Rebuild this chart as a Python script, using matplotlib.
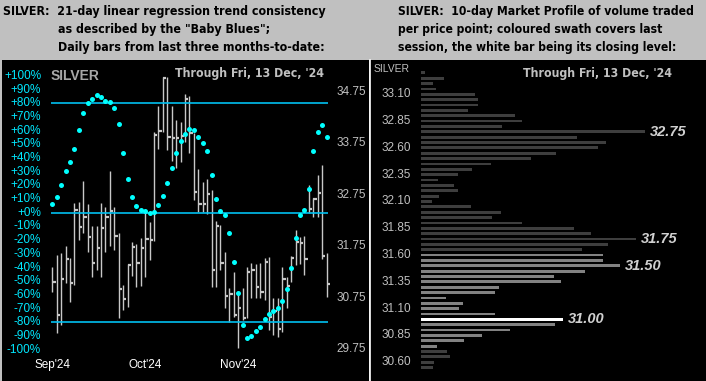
import numpy as np
import matplotlib.pyplot as plt
from matplotlib.lines import Line2D
from matplotlib import font_manager as fm
import matplotlib.transforms as mtransforms

# ---- left panel: daily bars + 21-day trend consistency ("Baby Blues") ----
high = [31.35, 31.58, 31.62, 31.75, 31.53, 32.60, 32.61, 33.02, 32.58, 32.14,
        32.14, 32.60, 32.52, 33.21, 32.51, 32.00, 31.00, 31.40, 31.84, 31.79,
        31.91, 32.40, 32.23, 33.98, 34.48, 35.05, 35.05, 34.48, 34.21, 34.17,
        34.71, 34.67, 33.95, 33.25, 33.00, 33.05, 32.84, 32.24, 32.16, 31.64,
        30.93, 31.25, 30.83, 30.93, 31.35, 31.43, 31.40, 31.42, 31.53, 31.54,
        30.74, 30.74, 31.35, 31.16, 31.55, 32.07, 31.92, 31.94, 32.94, 32.68,
        33.14, 33.33, 31.62]
low = [30.86, 30.06, 30.22, 31.03, 30.67, 31.00, 31.87, 32.00, 31.64, 31.16,
       31.29, 31.16, 31.64, 31.75, 31.68, 30.36, 30.51, 30.57, 31.17, 30.95,
       30.98, 31.15, 31.48, 31.86, 33.65, 33.98, 33.62, 33.41, 33.27, 33.39,
       33.78, 33.57, 32.64, 32.42, 32.42, 32.38, 30.95, 30.96, 31.29, 30.54,
       30.28, 30.38, 29.76, 30.31, 30.35, 30.74, 30.74, 30.74, 30.70, 30.12,
       30.02, 29.99, 30.08, 30.54, 31.06, 31.38, 31.40, 31.19, 32.39, 32.32,
       32.32, 31.51, 30.77]
close = [31.06, 30.41, 31.11, 31.50, 31.03, 32.45, 32.13, 32.31, 31.92, 31.43,
         31.72, 32.11, 32.32, 32.44, 31.95, 30.91, 30.73, 31.38, 31.74, 31.42,
         31.71, 31.89, 31.88, 33.92, 33.99, 35.02, 33.88, 33.85, 33.86, 33.89,
         34.61, 33.95, 32.80, 32.58, 32.58, 32.77, 31.29, 32.15, 31.43, 30.78,
         30.82, 30.41, 30.54, 30.35, 31.25, 31.29, 30.95, 30.86, 31.45, 30.38,
         30.48, 30.13, 31.11, 30.97, 31.53, 31.84, 31.81, 31.50, 32.47, 32.66,
         32.79, 31.55, 31.01]
trend = [6.2, 11.4, 20.1, 30.6, 37.2, 46.5, 60.4, 73.1, 80.4, 83.4,
         86.3, 84.8, 81.9, 81.2, 76.8, 65.0, 43.8, 24.8, 11.6, 5.0,
         2.0, 1.1, 0.0, 0.6, 5.5, 12.1, 21.8, 32.6, 43.8, 52.6,
         57.7, 61.2, 60.4, 55.3, 50.9, 45.3, 27.5, 9.9, 1.1, -1.8,
         -15.0, -36.3, -58.8, -82.3, -91.7, -90.2, -86.6, -83.2, -77.8, -74.1,
         -71.9, -69.7, -64.6, -55.8, -40.4, -18.5, -1.6, 2.1, 17.4, 45.3,
         59.2, 64.3, 55.5]
months = ["Sep'24", "Oct'24", "Nov'24"]
month_pos = [0, 21, 42]
pct_ticks = list(range(100, -101, -10))
price_ticks = [34.75, 33.75, 32.75, 31.75, 30.75, 29.75]
ref_levels = [80, 0, -80]

# ---- right panel: 10-day market profile ----
levels = [33.30, 33.25, 33.20, 33.15, 33.10, 33.05, 33.00, 32.95, 32.90, 32.85,
          32.80, 32.75, 32.70, 32.65, 32.60, 32.55, 32.50, 32.45, 32.40, 32.35,
          32.30, 32.25, 32.20, 32.15, 32.10, 32.05, 32.00, 31.95, 31.90, 31.85,
          31.80, 31.75, 31.70, 31.65, 31.60, 31.55, 31.50, 31.45, 31.40, 31.35,
          31.30, 31.25, 31.20, 31.15, 31.10, 31.05, 31.00, 30.95, 30.90, 30.85,
          30.80, 30.75, 30.70, 30.65, 30.60, 30.55, 30.50]
volume = [4.3, 23.7, 12.7, 15.7, 55.0, 57.7, 57.7, 47.7, 95.0, 102.0,
          82.0, 226.0, 157.7, 186.7, 178.0, 135.7, 111.0, 70.7, 51.7, 37.7,
          17.0, 34.0, 38.0, 18.7, 11.0, 50.7, 80.7, 72.0, 102.0, 154.7,
          171.7, 217.0, 188.7, 162.7, 183.0, 183.0, 200.7, 165.0, 133.7, 140.7,
          78.7, 74.7, 25.7, 42.7, 38.7, 74.7, 142.7, 134.7, 89.7, 61.7,
          43.7, 16.7, 26.7, 29.7, 13.7, 12.7, 0.7]
profile_ticks = [33.10, 32.85, 32.60, 32.35, 32.10, 31.85, 31.60, 31.35, 31.10, 30.85, 30.60]
session_low, session_high = 30.75, 31.60
last_close = 31.00
peaks = [32.75, 31.75, 31.50, 31.00]

W, H = 706, 381
plt.rcParams['font.family'] = ['Liberation Sans', 'DejaVu Sans']

# a narrow bold face if one is installed, else plain bold (squeezed by size below)
narrow_file = None
for f in fm.fontManager.ttflist:
    fn = f.fname.lower()
    if ('narrow' in fn or 'condensed' in fn) and 'bold' in fn \
            and 'italic' not in fn and 'oblique' not in fn:
        narrow_file = f.fname
        break

def narrow(size):
    if narrow_file:
        return fm.FontProperties(fname=narrow_file, size=size)
    return fm.FontProperties(family='Liberation Sans', weight='bold', size=size)

def box(x0, y0, x1, y1):
    return [x0 / W, 1 - y1 / H, (x1 - x0) / W, (y1 - y0) / H]

def noframe(a):
    a.set_xticks([]); a.set_yticks([])
    for s in a.spines.values():
        s.set_visible(False)

fig = plt.figure(figsize=(W / 100, H / 100), dpi=100, facecolor='#c0c0c0')
renderer = fig.canvas.get_renderer()

def fit(texts, width, size=11.0):
    # shrink a group of texts so that the first one spans `width` pixels
    for t in texts:
        t.set_fontproperties(narrow(size))
    w = texts[0].get_window_extent(renderer).width
    for t in texts:
        t.set_fontproperties(narrow(size * width / w))

# header text
hdr = dict(color='black', va='center')
left_hdr = [fig.text(3 / W, 1 - 11 / H, 'SILVER:  21-day linear regression trend consistency', **hdr),
            fig.text(58 / W, 1 - 30 / H, 'as described by the "Baby Blues";', **hdr),
            fig.text(58 / W, 1 - 48 / H, 'Daily bars from last three months-to-date:', **hdr)]
right_hdr = [fig.text(398 / W, 1 - 11 / H, 'SILVER:  10-day Market Profile of volume traded', **hdr),
             fig.text(398 / W, 1 - 30 / H, 'per price point; coloured swath covers last', **hdr),
             fig.text(398 / W, 1 - 48 / H, 'session, the white bar being its closing level:', **hdr)]
fit(left_hdr, 323)
fit(right_hdr, 296)

# left: price axes (back) + percent axes (front)
ax = fig.add_axes(box(2, 60, 369, 381))
ax.set_facecolor('black')
noframe(ax)
ax.set_xlim(-11.38, 71.6)
ax.set_ylim(29.127, 35.373)
x = np.arange(len(close))
ax.vlines(x, low, high, color='#c8c8c8', lw=1.0)
ax.hlines(close, x, x + 0.75, color='#c8c8c8', lw=1.6)

axp = ax.twinx()
noframe(axp)
axp.set_ylim(-122.9, 111.6)
axp.hlines(ref_levels, -0.4, len(close) - 0.7, color='#00c0f0', lw=1.2)
axp.plot(x, trend, 'o', color='#00ffff', ms=3.6, mec='none')

bt = mtransforms.blended_transform_factory(axp.transAxes, axp.transData)
for p in pct_ticks:
    axp.text(0.1066, p, ('+%d%%' % p) if p >= 0 else ('%d%%' % p), transform=bt,
             ha='right', va='center', color='#00e8ff', fontsize=8.5)
bt2 = mtransforms.blended_transform_factory(ax.transAxes, ax.transData)
for v in price_ticks:
    ax.text(0.9126, v, '%.2f' % v, transform=bt2, ha='left', va='center',
            color='#c0c0c0', fontsize=8.5)
for m, pos in zip(months, month_pos):
    axp.text(pos, -111.2, m, ha='center', va='center', color='white', fontsize=8.5)
axp.text((50 - 2) / 366, (381 - 76) / 321, 'SILVER', transform=axp.transAxes,
         ha='left', va='center', color='#a8a8a8', fontsize=10, fontweight='bold')
thr_left = axp.text((175 - 2) / 366, (381 - 73.3) / 321, "Through Fri, 13 Dec, '24",
                    transform=axp.transAxes, ha='left', va='center', color='#c0c0c0')

# right: market profile
axr = fig.add_axes(box(370, 60, 706, 381))
axr.set_facecolor('black')
noframe(axr)
axr.set_xlim(-51, 287)
axr.set_ylim(30.425, 33.42)
cols = []
for lv in levels:
    if abs(lv - last_close) < 1e-6:
        cols.append('white')
    elif session_low - 1e-6 <= lv <= session_high + 1e-6:
        cols.append('#828282')
    else:
        cols.append('#3e3e3e')
axr.barh(levels, volume, height=0.026, left=0, color=cols)
for v in profile_ticks:
    axr.text(-10, v, '%.2f' % v, ha='right', va='center', color='#c0c0c0', fontsize=8.5)
for pk in peaks:
    vol = volume[levels.index(pk)]
    axr.text(vol + 5, pk, '%.2f' % pk, ha='left', va='center', color='#d0d0d0',
             fontsize=10.5, fontweight='bold', style='italic')
axr.text((374 - 370) / 336, (381 - 69) / 321, 'SILVER', transform=axr.transAxes,
         ha='left', va='center', color='#c0c0c0', fontsize=7.5)
thr_right = axr.text((523 - 370) / 336, (381 - 73.3) / 321, "Through Fri, 13 Dec, '24",
                     transform=axr.transAxes, ha='left', va='center', color='#c0c0c0')
fit([thr_left, thr_right], 148)

fig.add_artist(Line2D([369.5 / W] * 2, [0, 1 - 60 / H], color='white', lw=1.2))

fig.savefig('out.png', dpi=100, facecolor=fig.get_facecolor())
